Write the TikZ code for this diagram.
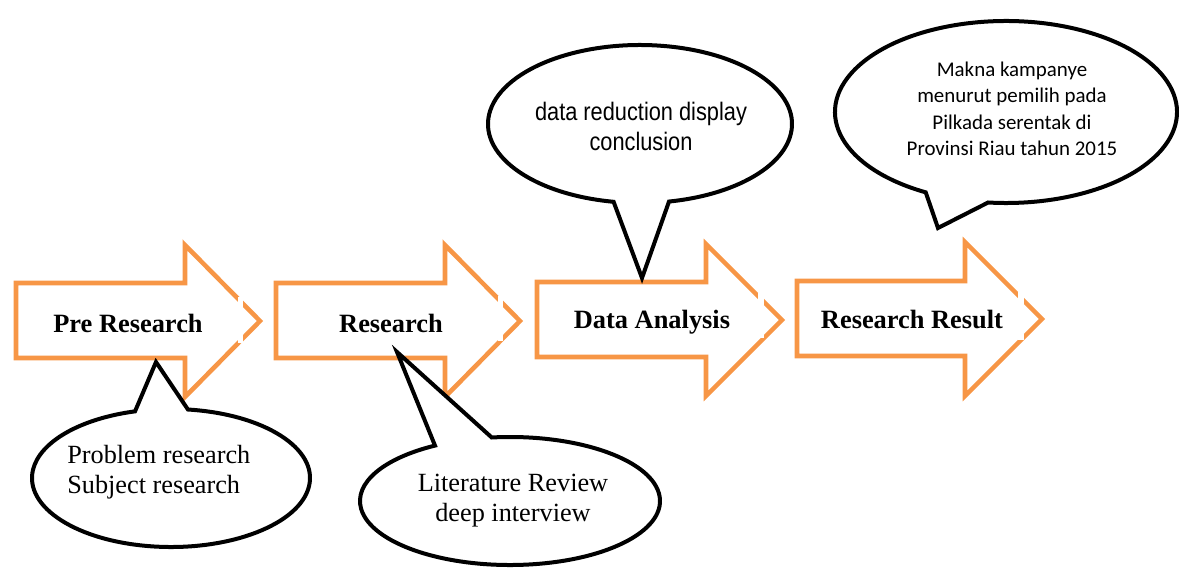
\documentclass[tikz,border=0pt]{standalone}
\usepackage{fontspec}
\setmainfont{Liberation Serif}
\newfontfamily\narrowfont[FakeStretch=0.86]{Liberation Sans}
\newfontfamily\calfont{Carlito}
\definecolor{arroworange}{HTML}{F79646}
\tikzset{
  flowarrow/.style={draw=arroworange, line width=3.4pt, fill=white, line join=miter, miter limit=10},
  bubble/.style={draw=black, line width=3pt, fill=white, line join=miter, miter limit=10},
  steplabel/.style={font=\bfseries\fontsize{19.8}{23}\selectfont, inner sep=0pt},
  serifnote/.style={font=\fontsize{19.7}{22.5}\selectfont, inner sep=0pt},
  sansnote/.style={font=\narrowfont\fontsize{19}{22.5}\selectfont, inner sep=0pt, align=center},
  calnote/.style={font=\calfont\fontsize{15.7}{19.9}\selectfont, inner sep=0pt, align=center},
  gapcut/.style={fill=white, draw=none}
}
\begin{document}
\begin{tikzpicture}[x=0.75pt, y=-0.75pt]
\useasboundingbox (0,0) rectangle (1179,568);

% block arrows
\draw[flowarrow] (16,283) -- (185,283) -- (185,245) -- (260,321) -- (185,397) -- (185,358) -- (16,358) -- cycle;
\draw[flowarrow] (276,283) -- (445,283) -- (445,245) -- (520,321) -- (445,397) -- (445,358) -- (276,358) -- cycle;
\draw[flowarrow] (537,282) -- (706,282) -- (706,244) -- (782,320) -- (706,396) -- (706,357) -- (537,357) -- cycle;
\draw[flowarrow] (797,281) -- (965,281) -- (965,242) -- (1042,319) -- (965,396) -- (965,356) -- (797,356) -- cycle;

% small white breaks near the arrow tips
\fill[gapcut] (238,297) rectangle (243,343);
\fill[gapcut] (498,296) rectangle (503,341);
\fill[gapcut] (758,293) rectangle (764,338);
\fill[gapcut] (1018,292) rectangle (1024,340);

% arrow labels
\node[steplabel, anchor=base] (pre) at (128,332) {Pre Research};
\node[steplabel, anchor=base] (res) at (391,332) {Research};
\node[steplabel, anchor=base] (ana) at (652,328) {Data Analysis};
\node[steplabel, anchor=base] (out) at (912,328) {Research Result};

% callout tips
\coordinate (t1) at (156,362);
\coordinate (t2) at (397,352);
\coordinate (t3) at (642,278);
\coordinate (t4) at (938,228);

% callouts
\draw[bubble] (171,478) ++(-83:139 and 69) arc[start angle=-83, end angle=255, x radius=139, y radius=69] -- (t1) -- cycle;
\draw[bubble] (510,501) ++(-97:150 and 64) arc[start angle=-97, end angle=240, x radius=150, y radius=64] -- (t2) -- cycle;
\draw[bubble] (640,124) ++(100:152 and 79) arc[start angle=100, end angle=439, x radius=152, y radius=79] -- (t3) -- cycle;
\draw[bubble] (1006,112) ++(118:171 and 91) arc[start angle=118, end angle=456, x radius=171, y radius=91] -- (t4) -- cycle;

% callout texts
\node[serifnote, align=left, anchor=west] (prob) at (67,472) {Problem research\\Subject research};
\node[serifnote, align=center] (lit) at (513,501) {Literature Review\\deep interview};
\node[sansnote] (red) at (641,126) {data reduction display\\conclusion};
\node[calnote] (mak) at (1012,109) {Makna kampanye\\menurut pemilih pada\\Pilkada serentak di\\Provinsi Riau tahun 2015};
\end{tikzpicture}
\end{document}
